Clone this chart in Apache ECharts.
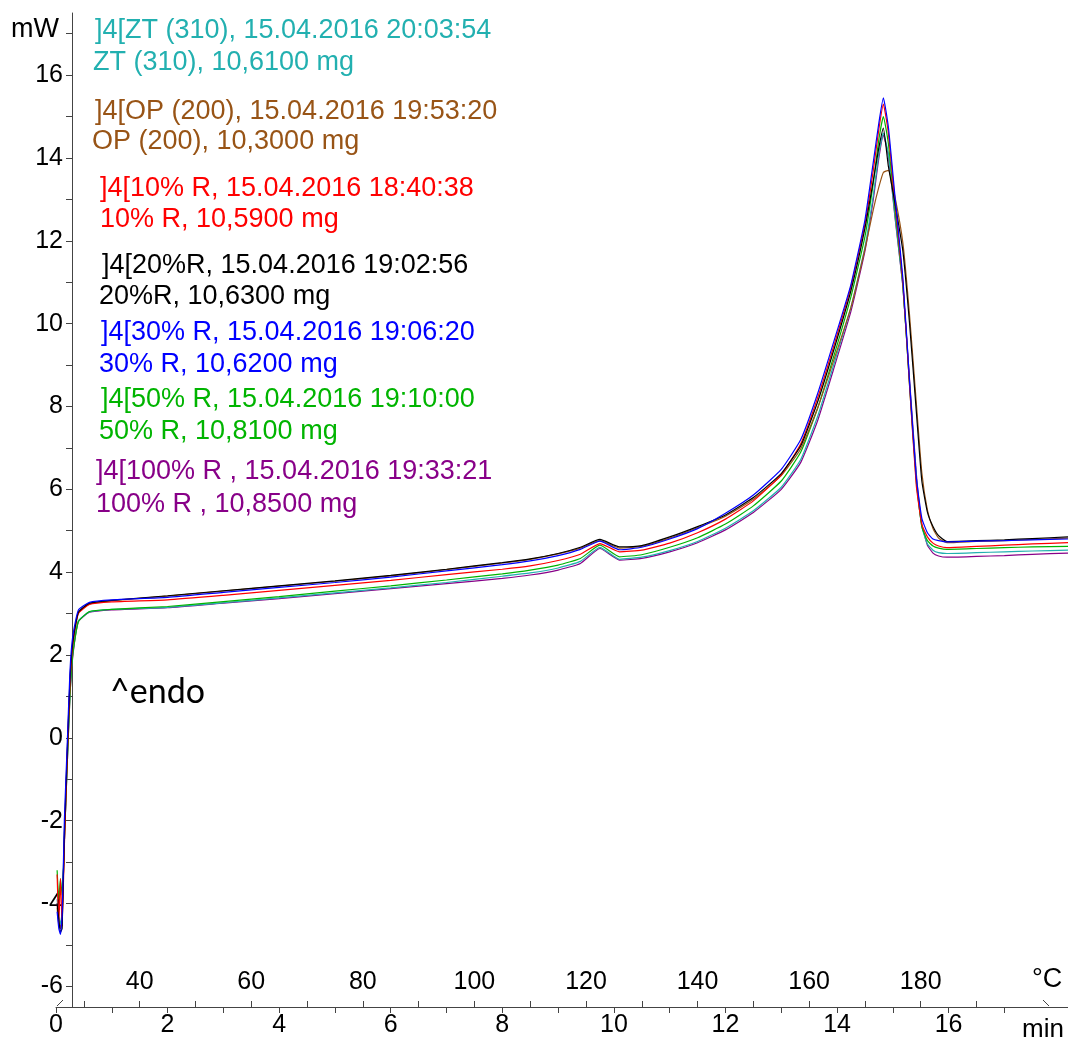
<!DOCTYPE html>
<html>
<head>
<meta charset="utf-8">
<title>DSC</title>
<script src="https://cdn.jsdelivr.net/npm/echarts@6/dist/echarts.min.js"></script>
<style>
html, body { margin: 0; padding: 0; background: #fff; }
#dsc { width: 1068px; height: 1046px; }
</style>
</head>
<body>
<div id="dsc"></div>
<script>
// time axis (min) shared by all curves
var minutes = [0.02, 0.05, 0.08, 0.11, 0.15, 0.2, 0.25, 0.3, 0.4, 0.6,
  1, 2, 3, 4, 5, 6, 7, 8, 8.5, 9,
  9.4, 9.75, 10.1, 10.5, 11, 11.5, 12, 12.5, 13, 13.35,
  13.65, 13.95, 14.25, 14.5, 14.65, 14.75, 14.83, 14.92, 15.04, 15.18,
  15.3, 15.42, 15.52, 15.62, 15.72, 15.82, 15.97, 16.5, 17, 17.5, 18.14];

// heat flow, mW
var zt310 = [-3.9, -4.3, -4.5, -4.2, -2.5, -0.6, 1.1, 2.05, 2.82, 3.04,
  3.1, 3.15, 3.26, 3.38, 3.5, 3.62, 3.75, 3.9, 3.98, 4.1,
  4.26, 4.6, 4.31, 4.36, 4.52, 4.74, 5.06, 5.48, 6.05, 6.72,
  7.75, 9.05, 10.4, 11.85, 13.1, 14.1, 14.6, 14.1, 12.6, 10.9,
  8.55, 6.3, 5.1, 4.68, 4.53, 4.47, 4.45, 4.47, 4.49, 4.51, 4.53];
var op200 = [-4.1, -4.5, -4.6, -4.4, -2.4, -0.5, 1.3, 2.2, 3.0, 3.23,
  3.31, 3.42, 3.54, 3.66, 3.78, 3.91, 4.06, 4.22, 4.31, 4.44,
  4.58, 4.76, 4.58, 4.62, 4.82, 5.07, 5.35, 5.76, 6.33, 6.98,
  7.95, 9.15, 10.4, 11.8, 12.75, 13.3, 13.65, 13.7, 13.05, 11.95,
  10.2, 8.1, 6.4, 5.5, 5.05, 4.82, 4.71, 4.74, 4.76, 4.79, 4.82];
var r10 = [-3.3, -4.5, -3.4, -4.55, -2.6, -0.5, 1.3, 2.3, 3.0, 3.22,
  3.28, 3.33, 3.44, 3.56, 3.68, 3.8, 3.94, 4.07, 4.15, 4.28,
  4.43, 4.69, 4.49, 4.53, 4.7, 4.95, 5.28, 5.72, 6.35, 7.1,
  8.2, 9.5, 10.9, 12.4, 13.7, 14.7, 15.3, 14.6, 12.9, 11.0,
  8.5, 6.1, 5.15, 4.85, 4.7, 4.63, 4.59, 4.62, 4.65, 4.68, 4.71];
var r20 = [-4.0, -4.4, -4.7, -4.6, -2.3, -0.4, 1.4, 2.3, 3.03, 3.25,
  3.32, 3.43, 3.55, 3.67, 3.79, 3.92, 4.07, 4.23, 4.32, 4.45,
  4.6, 4.79, 4.61, 4.64, 4.85, 5.1, 5.38, 5.8, 6.38, 7.05,
  8.1, 9.4, 10.8, 12.3, 13.45, 14.25, 14.72, 13.8, 12.9, 11.75,
  10.0, 7.9, 6.2, 5.45, 5.1, 4.88, 4.74, 4.76, 4.78, 4.81, 4.85];
var r30 = [-4.2, -4.6, -4.75, -4.3, -2.0, -0.2, 1.6, 2.45, 3.08, 3.27,
  3.33, 3.39, 3.51, 3.63, 3.75, 3.88, 4.03, 4.18, 4.27, 4.4,
  4.55, 4.75, 4.54, 4.6, 4.8, 5.05, 5.42, 5.86, 6.48, 7.2,
  8.3, 9.6, 10.95, 12.5, 13.9, 14.85, 15.45, 14.75, 13.05, 11.1,
  8.6, 6.3, 5.3, 4.95, 4.8, 4.76, 4.73, 4.75, 4.76, 4.78, 4.8];
var r50 = [-3.2, -3.9, -3.4, -3.8, -2.5, -0.7, 1.0, 2.0, 2.8, 3.05,
  3.1, 3.17, 3.29, 3.41, 3.54, 3.67, 3.81, 3.96, 4.05, 4.17,
  4.33, 4.65, 4.37, 4.42, 4.6, 4.83, 5.16, 5.6, 6.2, 6.9,
  7.95, 9.25, 10.65, 12.1, 13.4, 14.45, 15.0, 14.35, 12.75, 10.95,
  8.5, 6.2, 5.1, 4.76, 4.63, 4.58, 4.55, 4.57, 4.59, 4.61, 4.62];
var r100 = [-4.0, -4.4, -4.6, -4.3, -2.5, -0.7, 1.0, 1.95, 2.8, 3.03,
  3.09, 3.14, 3.25, 3.36, 3.48, 3.6, 3.72, 3.85, 3.93, 4.05,
  4.21, 4.57, 4.29, 4.33, 4.49, 4.71, 5.02, 5.44, 6.0, 6.65,
  7.65, 8.95, 10.3, 11.75, 13.0, 14.0, 14.55, 14.05, 12.55, 10.9,
  8.65, 6.4, 5.15, 4.65, 4.46, 4.39, 4.36, 4.38, 4.4, 4.43, 4.46];

// axis ticks / labels
var minTicks = [0, 1, 2, 3, 4, 5, 6, 7, 8, 9, 10, 11, 12, 13, 14, 15, 16, 17];
var minLabels = [0, 2, 4, 6, 8, 10, 12, 14, 16];
var tempTicks = [30, 40, 50, 60, 70, 80, 90, 100, 110, 120, 130, 140, 150, 160, 170, 180, 190];
var tempLabels = [40, 60, 80, 100, 120, 140, 160, 180];
var mwTicks = [-6, -5, -4, -3, -2, -1, 0, 1, 2, 3, 4, 5, 6, 7, 8, 9, 10, 11, 12, 13, 14, 15, 16, 17];
var mwLabels = [-6, -4, -2, 0, 2, 4, 6, 8, 10, 12, 14, 16];

// legend lines (curve header + sample mass)
var runTitles = [']4[ZT (310), 15.04.2016 20:03:54', ']4[OP (200), 15.04.2016 19:53:20',
  ']4[10% R, 15.04.2016 18:40:38', ']4[20%R, 15.04.2016 19:02:56',
  ']4[30% R, 15.04.2016 19:06:20', ']4[50% R, 15.04.2016 19:10:00',
  ']4[100% R , 15.04.2016 19:33:21'];
var runMasses = ['ZT (310), 10,6100 mg', 'OP (200), 10,3000 mg', '10% R, 10,5900 mg',
  '20%R, 10,6300 mg', '30% R, 10,6200 mg', '50% R, 10,8100 mg', '100% R , 10,8500 mg'];
var runValues = [zt310, op200, r10, r20, r30, r50, r100];
var runColors = ['#22B0B0', '#985416', '#FF0000', '#000000', '#0000FF', '#00B400', '#880088'];

// text placement: [x title, y title, x mass, y mass]
var textPos = [[95, 31, 93, 63], [95, 112, 92, 142], [100, 189, 100, 220], [102, 266, 99, 297],
  [101, 333, 99, 365], [101, 400, 99, 432], [96, 472, 96, 505]];
var drawZ = [2, 4, 5, 6, 7, 3, 1];

var chart = echarts.init(document.getElementById('dsc'), null, {renderer: 'canvas'});
var FONT = '"Liberation Sans", Arial, sans-serif';

var series = [];
for (var i = 0; i < runValues.length; i++) {
  var d = [];
  for (var j = 0; j < minutes.length; j++) d.push([minutes[j], runValues[i][j]]);
  series.push({
    type: 'line',
    name: runMasses[i],
    data: d,
    xAxisIndex: 0,
    showSymbol: false,
    smooth: 0.15,
    z: drawZ[i],
    lineStyle: {color: runColors[i], width: 1.2},
    itemStyle: {color: runColors[i]}
  });
}

var graphics = [];
for (var k = 0; k < runTitles.length; k++) {
  graphics.push({type: 'text', x: textPos[k][0], y: textPos[k][1],
    style: {text: runTitles[k], fill: runColors[k], font: '27px ' + FONT, verticalAlign: 'middle', textVerticalAlign: 'middle'}});
  graphics.push({type: 'text', x: textPos[k][2], y: textPos[k][3],
    style: {text: runMasses[k], fill: runColors[k], font: '27px ' + FONT, verticalAlign: 'middle', textVerticalAlign: 'middle'}});
}
graphics.push({type: 'text', x: 11, y: 30, style: {text: 'mW', fill: '#000', font: '27px ' + FONT, verticalAlign: 'middle', textVerticalAlign: 'middle'}});
graphics.push({type: 'text', x: 1032, y: 980, style: {text: '°C', fill: '#000', font: '27px ' + FONT, verticalAlign: 'middle', textVerticalAlign: 'middle'}});
graphics.push({type: 'text', x: 1022, y: 1030, style: {text: 'min', fill: '#000', font: '26px ' + FONT, verticalAlign: 'middle', textVerticalAlign: 'middle'}});
graphics.push({type: 'text', x: 110, y: 692, style: {text: '^endo', fill: '#000', font: '34px Lato, "Open Sans", sans-serif', verticalAlign: 'middle', textVerticalAlign: 'middle'}});
// axis break marks
graphics.push({type: 'line', shape: {x1: 57, y1: 1006, x2: 63, y2: 1000}, style: {stroke: '#444', lineWidth: 1}});
graphics.push({type: 'line', shape: {x1: 1043, y1: 1000, x2: 1049, y2: 1006}, style: {stroke: '#444', lineWidth: 1}});

var option = {
  animation: false,
  backgroundColor: '#fff',
  grid: {left: 56, right: 0, top: 13, bottom: 39, containLabel: false, outerBoundsMode: 'none'},
  xAxis: [{
    type: 'value', position: 'bottom', min: 0, max: 18.14,
    splitLine: {show: false},
    axisLine: {show: true, onZero: false, lineStyle: {color: '#444', width: 1}},
    axisTick: {show: true, length: 6, customValues: minTicks, lineStyle: {color: '#444'}},
    axisLabel: {show: true, customValues: minLabels, color: '#000', fontSize: 25, fontFamily: FONT, margin: 6}
  }, {
    type: 'value', position: 'bottom', min: 25, max: 206.4,
    splitLine: {show: false},
    axisLine: {show: false, onZero: false},
    axisTick: {show: true, inside: true, length: 6, customValues: tempTicks, lineStyle: {color: '#444'}},
    axisLabel: {show: true, inside: true, customValues: tempLabels, color: '#000', fontSize: 25, fontFamily: FONT, margin: 12}
  }],
  yAxis: {
    type: 'value', min: -6.5, max: 17.5, offset: -16,
    splitLine: {show: false},
    axisLine: {show: true, onZero: false, lineStyle: {color: '#444', width: 1}},
    axisTick: {show: true, length: 6, customValues: mwTicks, lineStyle: {color: '#444'}},
    axisLabel: {show: true, customValues: mwLabels, color: '#000', fontSize: 25, fontFamily: FONT, margin: 9}
  },
  graphic: graphics,
  series: series
};
chart.setOption(option);
</script>
</body>
</html>
